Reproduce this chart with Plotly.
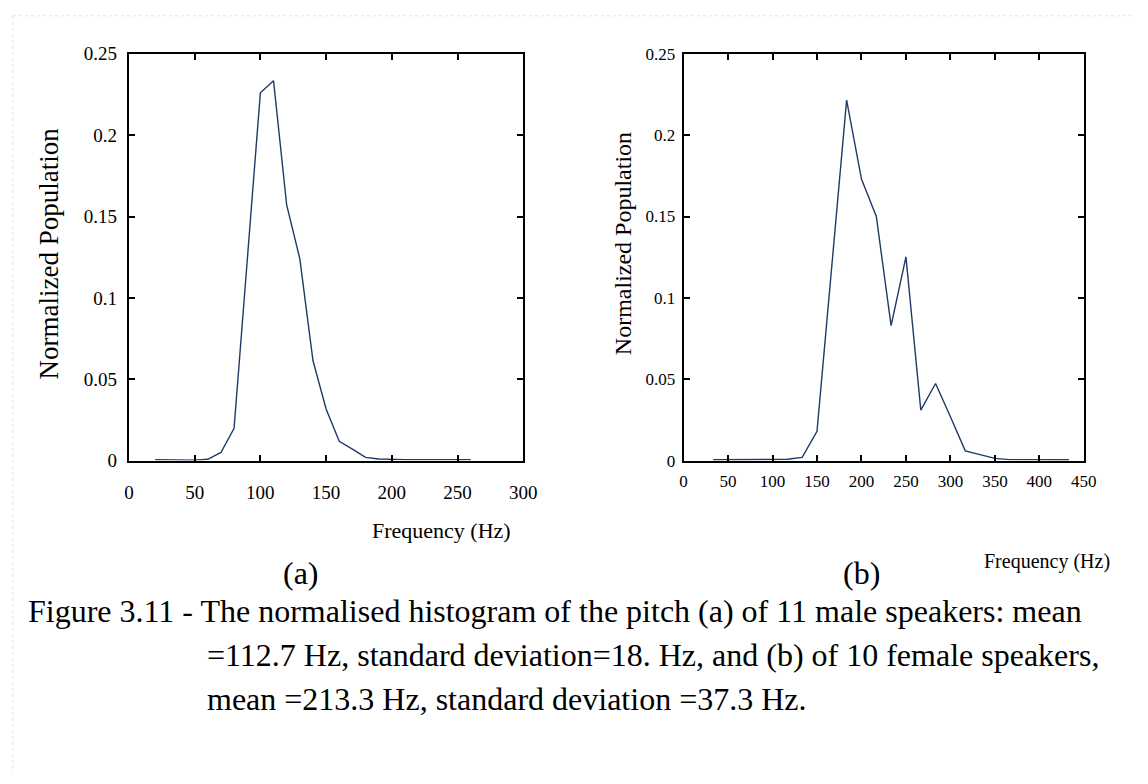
import plotly.graph_objects as go

# ---------------- data ----------------
male_freq = [20, 30, 40, 50, 60, 70, 80, 90, 100, 110, 120, 130, 140, 150,
             160, 170, 180, 190, 200, 210, 220, 230, 240, 250, 260]
male_pop = [0.0006, 0.0004, 0.0003, 0.0003, 0.0008, 0.0050, 0.0198, 0.1230,
            0.2260, 0.2335, 0.1572, 0.1241, 0.0615, 0.0317, 0.0119, 0.0070,
            0.0020, 0.0010, 0.0006, 0.0006, 0.0006, 0.0006, 0.0006, 0.0006, 0.0006]

female_freq = [33.3, 50.0, 66.7, 83.3, 100.0, 116.7, 133.3, 150.0, 166.7, 183.3,
               200.0, 216.7, 233.3, 250.0, 266.7, 283.3, 300.0, 316.7, 333.3,
               350.0, 366.7, 383.3, 400.0, 416.7, 433.3]
female_pop = [0.0005, 0.0005, 0.0007, 0.0007, 0.0007, 0.0008, 0.0020, 0.0180,
              0.1200, 0.2215, 0.1730, 0.1500, 0.0830, 0.1252, 0.0310, 0.0474,
              0.0270, 0.0060, 0.0037, 0.0014, 0.0006, 0.0005, 0.0005, 0.0005, 0.0005]

y_ticks = [0, 0.05, 0.1, 0.15, 0.2, 0.25]
y_ticktext = ["0", "0.05", "0.1", "0.15", "0.2", "0.25"]
x_ticks_a = [0, 50, 100, 150, 200, 250, 300]
x_ticks_b = [0, 50, 100, 150, 200, 250, 300, 350, 400, 450]

y_title = "Normalized Population"
x_title = "Frequency (Hz)"
caption_lines = [
    "Figure 3.11 - The normalised histogram of the pitch (a) of 11 male speakers: mean",
    "=112.7 Hz, standard deviation=18. Hz, and (b) of 10 female speakers,",
    "mean =213.3 Hz, standard deviation =37.3 Hz.",
]

# ---------------- layout helpers ----------------
W, H = 1148, 784
FONT = "Liberation Serif, Times New Roman, serif"
LINE_COLOR = "#1F3A66"


def px(x):
    return x / W


def py(y):
    return 1 - y / H


fig = go.Figure()
fig.add_trace(go.Scatter(x=male_freq, y=male_pop, mode="lines",
                         line=dict(color=LINE_COLOR, width=1.4),
                         xaxis="x", yaxis="y", showlegend=False, hoverinfo="x+y"))
fig.add_trace(go.Scatter(x=female_freq, y=female_pop, mode="lines",
                         line=dict(color=LINE_COLOR, width=1.4),
                         xaxis="x2", yaxis="y2", showlegend=False, hoverinfo="x+y"))

common_axis = dict(showline=True, linecolor="black", linewidth=2, mirror="ticks",
                   ticks="inside", ticklen=6, tickwidth=1.5, tickcolor="black",
                   showgrid=False, zeroline=False)

fig.update_layout(
    width=W, height=H,
    margin=dict(l=0, r=0, t=0, b=0),
    paper_bgcolor="white", plot_bgcolor="white",
    font=dict(family=FONT, color="black"),
    xaxis=dict(domain=[px(126), px(527)], range=[0, 300], tickvals=x_ticks_a,
               tickfont=dict(size=19, family=FONT), ticklabelstandoff=14,
               anchor="y", **common_axis),
    yaxis=dict(domain=[py(463), py(45)], range=[0, 0.25], tickvals=y_ticks,
               ticktext=y_ticktext, tickfont=dict(size=19, family=FONT),
               ticklabelstandoff=6, anchor="x", **common_axis),
    xaxis2=dict(domain=[px(690), px(1097)], range=[0, 450], tickvals=x_ticks_b,
                tickfont=dict(size=17, family=FONT), ticklabelstandoff=4,
                anchor="y2", **common_axis),
    yaxis2=dict(domain=[py(463), py(45)], range=[0, 0.25], tickvals=y_ticks,
                ticktext=y_ticktext, tickfont=dict(size=17, family=FONT),
                ticklabelstandoff=3, anchor="x2", **common_axis),
)

annotations = [
    dict(text=x_title, x=px(444), y=py(535), font=dict(size=22)),
    dict(text=x_title, x=px(1060), y=py(567), font=dict(size=20)),
    dict(text=y_title, x=px(45), y=py(250), textangle=-90, font=dict(size=27)),
    dict(text=y_title, x=px(628), y=py(240), textangle=-90, font=dict(size=24)),
    dict(text="(a)", x=px(301), y=py(578), font=dict(size=32)),
    dict(text="(b)", x=px(871), y=py(578), font=dict(size=32)),
    dict(text=caption_lines[0], x=px(21), y=py(618), xanchor="left", font=dict(size=32)),
    dict(text=caption_lines[1], x=px(203), y=py(663), xanchor="left", font=dict(size=32)),
    dict(text=caption_lines[2], x=px(203), y=py(708), xanchor="left", font=dict(size=32)),
]
for a in annotations:
    a.setdefault("xref", "paper")
    a.setdefault("yref", "paper")
    a.setdefault("showarrow", False)
    a.setdefault("xanchor", "center")
    a.setdefault("yanchor", "middle")
    a["font"] = dict(family=FONT, color="black", **a["font"])
fig.update_layout(annotations=annotations)

# faint dotted page frame
fig.update_layout(shapes=[
    dict(type="line", xref="paper", yref="paper", x0=px(8), x1=1, y0=py(6), y1=py(6),
         line=dict(color="#cfe9f2", width=1, dash="dot")),
    dict(type="line", xref="paper", yref="paper", x0=px(8), x1=px(8), y0=py(6), y1=0,
         line=dict(color="#cfe9f2", width=1, dash="dot")),
])

# remove the browser's default 8px body margin so the figure sits at (0, 0)
fig.write_html("out.html", config={"displayModeBar": False},
               post_script="document.body.style.margin='0px';")
